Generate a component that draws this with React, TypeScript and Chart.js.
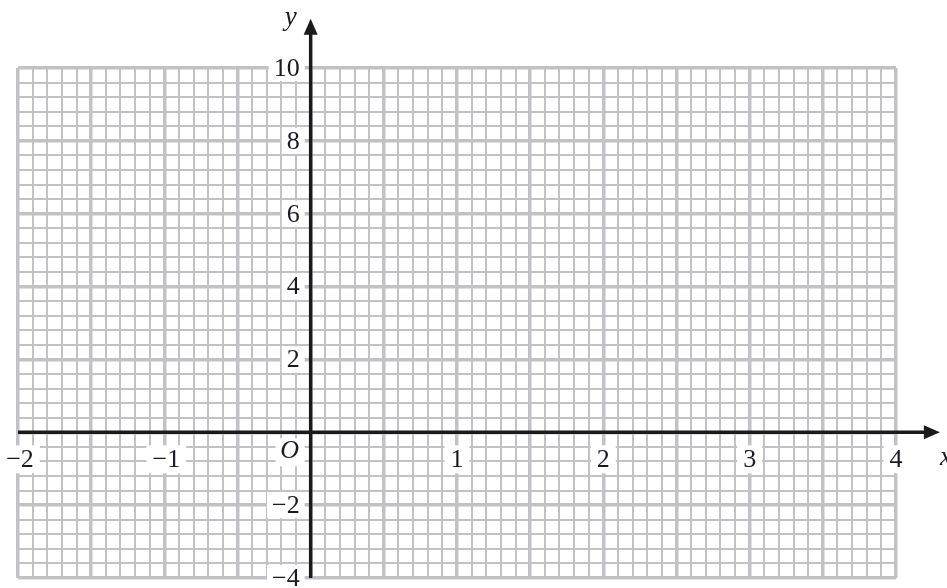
import React, { useEffect, useRef } from "react";
import { Chart, registerables } from "chart.js";

Chart.register(...registerables);

const xMin = -2;
const xMax = 4;
const yMin = -4;
const yMax = 10;
const xMinorStep = 0.1;
const xMajorStep = 0.5;
const yMinorStep = 0.4;
const yMajorStep = 2;
const xTickValues = [-2, -1, 1, 2, 3, 4];
const xTickLabels = ["\u22122", "\u22121", "1", "2", "3", "4"];
const yTickValues = [10, 8, 6, 4, 2, -2, -4];
const yTickLabels = ["10", "8", "6", "4", "2", "\u22122", "\u22124"];
const xArrowEnd = 4.3;
const yArrowEnd = 11.35;

const GRID = "#c2c2c6";
const FONT = "'Liberation Serif', 'DejaVu Serif', serif";

function isMultiple(v: number, step: number) {
  const r = v / step;
  return Math.abs(r - Math.round(r)) < 1e-6;
}

const overlay = {
  id: "overlay",
  afterDraw(chart: any) {
    const ctx = chart.ctx as CanvasRenderingContext2D;
    const xs = chart.scales.x;
    const ys = chart.scales.y;
    const x0 = xs.getPixelForValue(0);
    const y0 = ys.getPixelForValue(0);
    ctx.save();
    ctx.font = `26px ${FONT}`;
    ctx.textBaseline = "middle";

    // y labels
    yTickValues.forEach((v, i) => {
      const py = ys.getPixelForValue(v);
      const t = yTickLabels[i];
      const w = ctx.measureText(t).width;
      const right = x0 - 11;
      ctx.fillStyle = "#fff";
      ctx.fillRect(right - w - 5, py - 13, w + 10, 26);
      ctx.fillStyle = "#1a1a22";
      ctx.textAlign = "right";
      ctx.fillText(t, right, py + 1);
    });

    // x labels
    xTickValues.forEach((v, i) => {
      const px = xs.getPixelForValue(v);
      const t = xTickLabels[i];
      const w = ctx.measureText(t).width;
      const cy = y0 + 27;
      const cx = v < 0 ? px + 2 : px;
      ctx.fillStyle = "#fff";
      ctx.fillRect(cx - w / 2 - 6, cy - 14, w + 12, 28);
      ctx.fillStyle = "#1a1a22";
      ctx.textAlign = "center";
      ctx.fillText(t, cx, cy + 1);
    });

    // origin
    ctx.font = `italic 26px ${FONT}`;
    ctx.fillStyle = "#fff";
    ctx.fillRect(x0 - 35, y0 + 6, 29, 28);
    ctx.fillStyle = "#1a1a22";
    ctx.textAlign = "center";
    ctx.fillText("O", x0 - 21, y0 + 19);

    // axes
    ctx.strokeStyle = "#1a1a1a";
    ctx.fillStyle = "#1a1a1a";
    ctx.lineWidth = 3.5;
    const xl = xs.getPixelForValue(xMin);
    const xr = xs.getPixelForValue(xArrowEnd);
    ctx.beginPath();
    ctx.moveTo(xl, y0);
    ctx.lineTo(xr - 12, y0);
    ctx.stroke();
    ctx.beginPath();
    ctx.moveTo(xr, y0);
    ctx.lineTo(xr - 16, y0 - 7);
    ctx.lineTo(xr - 16, y0 + 7);
    ctx.closePath();
    ctx.fill();

    const yb = ys.getPixelForValue(yMin);
    const yt = ys.getPixelForValue(yArrowEnd);
    ctx.beginPath();
    ctx.moveTo(x0, yb);
    ctx.lineTo(x0, yt + 12);
    ctx.stroke();
    ctx.beginPath();
    ctx.moveTo(x0, yt);
    ctx.lineTo(x0 - 7, yt + 16);
    ctx.lineTo(x0 + 7, yt + 16);
    ctx.closePath();
    ctx.fill();

    // axis names
    ctx.font = `italic 27px ${FONT}`;
    ctx.textAlign = "center";
    ctx.fillStyle = "#1a1a22";
    ctx.fillText("y", x0 - 20, yt - 1);
    ctx.fillText("x", xr + 6, y0 + 26);
    ctx.restore();
  },
};

export default function App() {
  const ref = useRef<HTMLCanvasElement | null>(null);
  useEffect(() => {
    if (!ref.current) return;
    const chart = new Chart(ref.current, {
      type: "scatter",
      data: { datasets: [{ data: [], pointRadius: 0 }] },
      options: {
        animation: false,
        responsive: false,
        maintainAspectRatio: false,
        layout: { padding: { left: 18, right: 51, top: 68, bottom: 10 } },
        plugins: { legend: { display: false }, tooltip: { enabled: false } },
        scales: {
          x: {
            type: "linear",
            min: xMin,
            max: xMax,
            ticks: { display: false, stepSize: xMinorStep, maxTicksLimit: 200 },
            border: { display: false },
            grid: {
              drawTicks: false,
              color: GRID,
              lineWidth: (c: any) => (isMultiple(c.tick.value, xMajorStep) ? 3.5 : 2),
            },
          },
          y: {
            type: "linear",
            min: yMin,
            max: yMax,
            ticks: { display: false, stepSize: yMinorStep, maxTicksLimit: 200 },
            border: { display: false },
            grid: {
              drawTicks: false,
              color: GRID,
              lineWidth: (c: any) => (isMultiple(c.tick.value, yMajorStep) ? 3.5 : 2),
            },
          },
        },
      },
      plugins: [overlay],
    });
    return () => chart.destroy();
  }, []);
  return (
    <div style={{ position: "fixed", left: 0, top: 0, width: 947, height: 588, background: "#fff" }}>
      <canvas ref={ref} width={947} height={588} style={{ width: 947, height: 588 }} />
    </div>
  );
}
